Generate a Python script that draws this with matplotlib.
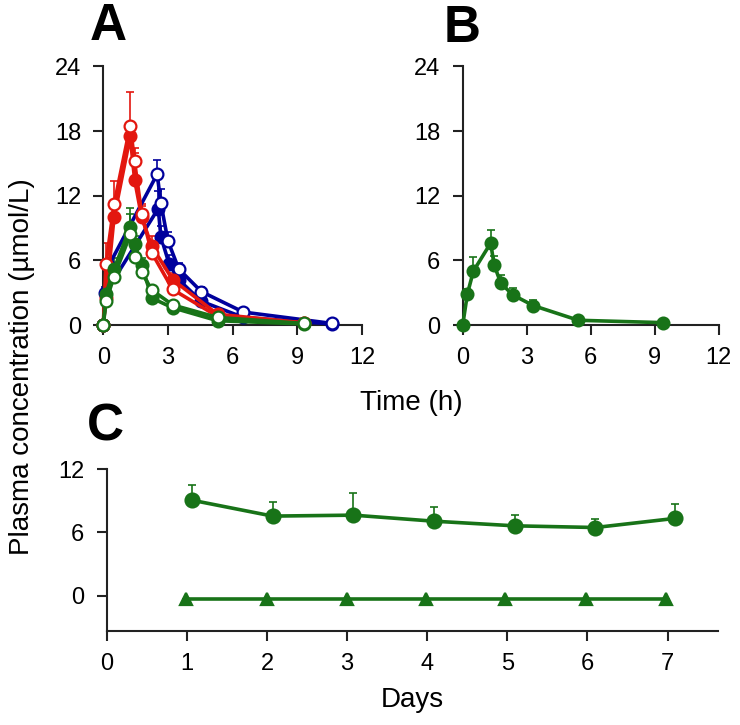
import numpy as np
import matplotlib
matplotlib.use("Agg")
import matplotlib.pyplot as plt

plt.rcParams['font.family'] = ['Liberation Sans', 'DejaVu Sans']

red = '#e3170f'
blue = '#00009c'
green = '#187318'

# Panel A: time (h) / concentration (umol/L), upper error bar tops
a_red_open_t = [0, 0.125, 0.5, 1.25, 1.45, 1.78, 2.25, 3.22, 5.3, 9.3]
a_red_open = [0, 5.7, 11.2, 18.5, 15.2, 10.3, 6.7, 3.3, 0.8, 0.2]
a_red_open_top = [0, 7.6, 13.4, 21.6, 16.0, 11.0, 7.4, 3.8, 1.0, 0.3]
a_red_fill_t = [0, 0.125, 0.5, 1.25, 1.45, 1.78, 2.25, 3.22, 5.3, 9.3]
a_red_fill = [0, 2.5, 10.0, 17.5, 13.5, 10.0, 7.3, 4.2, 1.0, 0.2]
a_red_fill_top = [0, 3.0, 11.0, 18.5, 16.4, 11.2, 8.3, 4.8, 1.2, 0.3]

a_blue_open_t = [0, 0.25, 2.5, 2.67, 3.0, 3.5, 4.55, 6.5, 10.6]
a_blue_open = [0, 5.5, 14.0, 11.3, 7.8, 5.2, 3.1, 1.2, 0.15]
a_blue_open_top = [0, 6.2, 15.3, 12.6, 8.6, 5.8, 3.5, 1.4, 0.2]
a_blue_fill_t = [0, 0.1, 2.55, 2.67, 3.05, 3.5, 4.55, 6.5, 10.6]
a_blue_fill = [0, 3.0, 10.8, 8.2, 5.7, 4.2, 2.2, 0.7, 0.1]
a_blue_fill_top = [0, 3.5, 12.4, 9.2, 6.5, 4.8, 2.6, 0.9, 0.15]

a_green_open_t = [0, 0.125, 0.5, 1.25, 1.45, 1.78, 2.25, 3.22, 5.3, 9.3]
a_green_open = [0, 2.2, 4.5, 8.4, 6.3, 4.9, 3.25, 1.86, 0.7, 0.15]
a_green_open_top = [0, 2.6, 5.2, 10.9, 7.0, 5.5, 3.6, 2.1, 0.8, 0.2]
a_green_fill_t = [0, 0.125, 0.5, 1.25, 1.45, 1.78, 2.25, 3.22, 5.3, 9.3]
a_green_fill = [0, 2.9, 5.2, 9.1, 7.5, 5.6, 2.5, 1.6, 0.4, 0.1]
a_green_fill_top = [0, 3.4, 6.2, 10.3, 8.3, 6.2, 2.9, 1.9, 0.5, 0.15]

# Panel B
b_t = [0, 0.22, 0.5, 1.31, 1.47, 1.78, 2.34, 3.31, 5.42, 9.4]
b_conc = [0, 2.9, 5.0, 7.6, 5.6, 3.9, 2.8, 1.8, 0.44, 0.22]
b_top = [0, 3.3, 6.3, 8.8, 6.4, 4.6, 3.4, 2.3, 0.5, 0.25]

# Panel C
c_days = [1.06, 2.07, 3.08, 4.08, 5.09, 6.1, 7.09]
c_conc = [9.06, 7.55, 7.64, 7.07, 6.63, 6.47, 7.33]
c_top = [10.48, 8.9, 9.7, 8.43, 7.64, 7.23, 8.65]
c_tri_days = [0.99, 2.0, 3.0, 3.98, 4.97, 5.98, 6.98]
c_tri_conc = [-0.25, -0.25, -0.25, -0.25, -0.25, -0.25, -0.25]

tick_fs = 17
label_fs = 20


def style_axes(ax):
    for s in ['top', 'right']:
        ax.spines[s].set_visible(False)
    for s in ['left', 'bottom']:
        ax.spines[s].set_linewidth(1.5)
        ax.spines[s].set_color('#222222')
    ax.tick_params(direction='out', length=7, width=1.5, color='#222222',
                   labelsize=tick_fs, pad=9)


def series(ax, t, y, top, color, filled, marker='o', ms=8.5):
    t = np.array(t)
    y = np.array(y)
    up = np.array(top) - y
    ax.errorbar(t, y, yerr=[np.zeros_like(up), up], fmt='none', ecolor=color,
                elinewidth=1.2, capsize=3, capthick=1.2, zorder=2, clip_on=False)
    ax.plot(t, y, '-', color=color, lw=2.6, marker=marker, ms=ms,
            mfc=color if filled else 'white', mec=color, mew=1.6,
            zorder=3, clip_on=False)


fig = plt.figure(figsize=(7.4, 7.25), dpi=100)

axA = fig.add_axes([0.1396, 0.5517, 0.3495, 0.3568])
series(axA, a_blue_fill_t, a_blue_fill, a_blue_fill_top, blue, True)
series(axA, a_blue_open_t, a_blue_open, a_blue_open_top, blue, False)
series(axA, a_red_fill_t, a_red_fill, a_red_fill_top, red, True)
series(axA, a_red_open_t, a_red_open, a_red_open_top, red, False)
series(axA, a_green_fill_t, a_green_fill, a_green_fill_top, green, True)
series(axA, a_green_open_t, a_green_open, a_green_open_top, green, False)

axB = fig.add_axes([0.6253, 0.5517, 0.346, 0.3568])
series(axB, b_t, b_conc, b_top, green, True)

for ax in (axA, axB):
    ax.set_xlim(0, 12)
    ax.set_ylim(0, 24)
    ax.set_xticks([0, 3, 6, 9, 12])
    ax.set_yticks([0, 6, 12, 18, 24])
    style_axes(ax)

axC = fig.add_axes([0.1442, 0.130, 0.8261, 0.223])
series(axC, c_days, c_conc, c_top, green, True, ms=10)
series(axC, c_tri_days, c_tri_conc, c_tri_conc, green, True, marker='^', ms=9)
axC.set_xlim(0, 7.63)
axC.set_ylim(-3.3, 12)
axC.set_xticks(range(8))
axC.set_yticks([0, 6, 12])
style_axes(axC)
axC.set_xlabel('Days', fontsize=label_fs, labelpad=9)

fig.text(411 / 740, 1 - 403 / 725, 'Time (h)', fontsize=label_fs,
         ha='center', va='center')
fig.text(22 / 740, 1 - 367 / 725, 'Plasma concentration (µmol/L)',
         fontsize=label_fs, rotation=90, ha='center', va='center')

for letter, x, y in [('A', 108, 26), ('B', 462, 28), ('C', 105, 427)]:
    fig.text(x / 740, 1 - y / 725, letter, fontsize=37, fontweight='bold',
             ha='center', va='center')

fig.savefig('out.png', dpi=100)
